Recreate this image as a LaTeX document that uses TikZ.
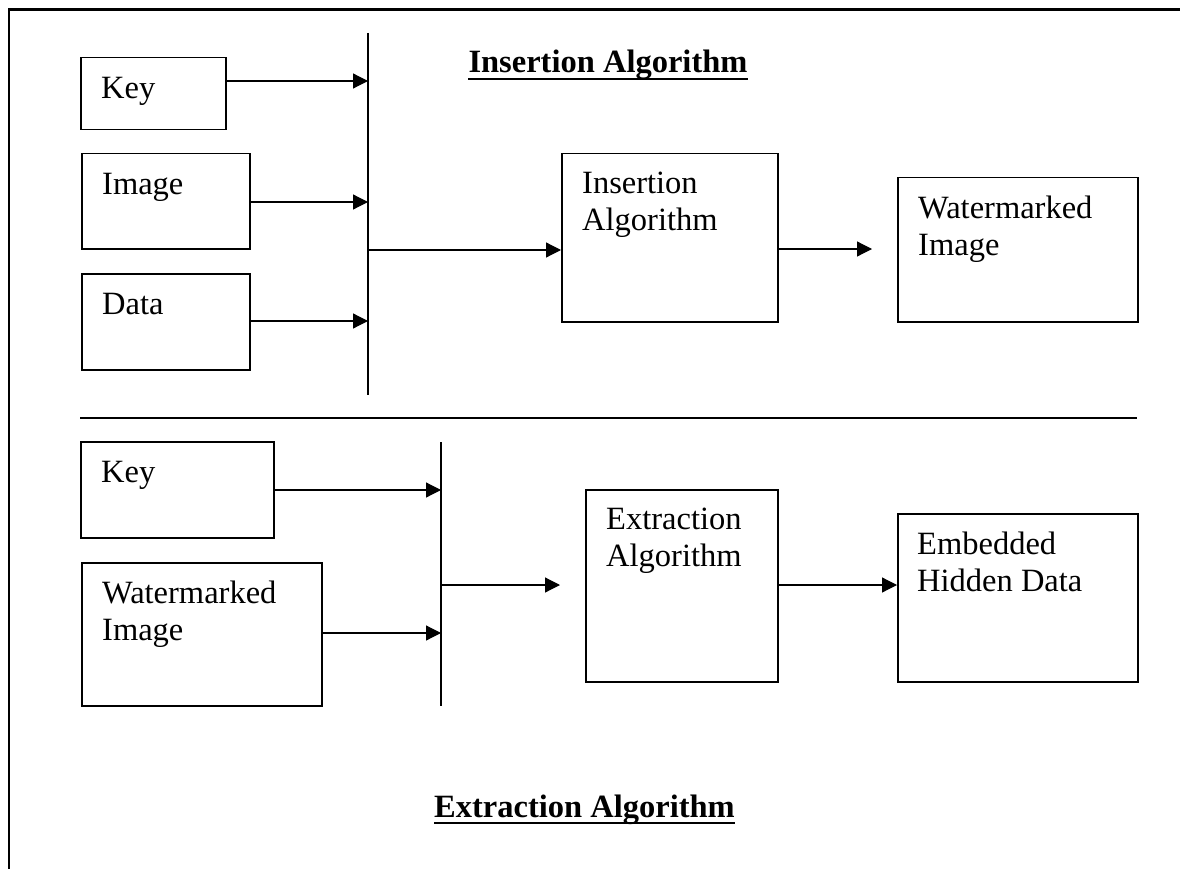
\documentclass[tikz,border=0pt]{standalone}
\usepackage{fontspec}
\setmainfont{Liberation Serif}
\usetikzlibrary{arrows.meta}
\begin{document}
\begin{tikzpicture}[x=1pt,y=-1pt,
  box/.style={draw, line width=1.5pt, rectangle, inner sep=0pt, anchor=north west},
  lbl/.style={anchor=north west, inner sep=0pt, align=left, font=\fontsize{32.5}{37}\selectfont},
  ttl/.style={anchor=base, inner sep=0pt, font=\fontsize{32.5}{37}\selectfont\bfseries},
  uline/.style={line width=2.6pt},
  arr/.style={line width=1.2pt, -{Triangle[length=15pt,width=15pt]}},
  bus/.style={line width=1.5pt},
]
\useasboundingbox (0,0) rectangle (1180,869);
% frame
\draw[line width=2.2pt] (9,869) -- (9,9.5) -- (1180,9.5);

% ---------- insertion ----------
\node[box, minimum width=145, minimum height=72] (k1) at (80,57) {};
\node[box, minimum width=168, minimum height=95] (im1) at (81,153) {};
\node[box, minimum width=168, minimum height=96] (d1) at (81,273) {};
\node[box, minimum width=216, minimum height=168] (ins) at (561,153) {};
\node[box, minimum width=240, minimum height=144] (wm1) at (897,177) {};

\node[lbl] (k1t) at ([shift={(21,20)}]k1.north west) {Key};
\node[lbl] (im1t) at ([shift={(21,20)}]im1.north west) {Image};
\node[lbl] (d1t) at ([shift={(21,20)}]d1.north west) {Data};
\node[lbl] (inst) at ([shift={(21,19)}]ins.north west) {Insertion\\Algorithm};
\node[lbl] (wm1t) at ([shift={(21,19)}]wm1.north west) {Watermarked\\Image};

\node[ttl] (title1) at (608,73) {Insertion Algorithm};
\draw[uline] ([yshift=-6pt]title1.base west) -- ([yshift=-6pt]title1.base east);

\coordinate (bus1t) at (368,33);
\coordinate (bus1b) at (368,395);
\draw[bus] (bus1t) -- (bus1b);
\coordinate (a1) at (368,81);
\coordinate (a2) at (368,202);
\coordinate (a3) at (368,321);
\coordinate (o1) at (368,250);
\draw[arr] (k1.east |- a1) -- (a1);
\draw[arr] (im1.east |- a2) -- (a2);
\draw[arr] (d1.east |- a3) -- (a3);
\draw[arr] (o1) -- (ins.west |- o1);
\coordinate (t1) at (872,249);
\draw[arr] (ins.east |- t1) -- (t1);

% separator
\draw[line width=1.4pt] (80,418) -- (1137,418);

% ---------- extraction ----------
\node[box, minimum width=193, minimum height=96] (k2) at (80,441) {};
\node[box, minimum width=240, minimum height=143] (wm2) at (81,562) {};
\node[box, minimum width=192, minimum height=192] (ext) at (585,489) {};
\node[box, minimum width=240, minimum height=168] (emb) at (897,513) {};

\node[lbl] (k2t) at ([shift={(21,20)}]k2.north west) {Key};
\node[lbl] (wm2t) at ([shift={(21,19)}]wm2.north west) {Watermarked\\Image};
\node[lbl] (extt) at ([shift={(21,19)}]ext.north west) {Extraction\\Algorithm};
\node[lbl] (embt) at ([shift={(20,19)}]emb.north west) {Embedded\\Hidden Data};

\coordinate (bus2t) at (441,442);
\coordinate (bus2b) at (441,706);
\draw[bus] (bus2t) -- (bus2b);
\coordinate (c1) at (441,490);
\coordinate (c2) at (441,633);
\coordinate (o2) at (441,585);
\coordinate (t2) at (560,585);
\draw[arr] (k2.east |- c1) -- (c1);
\draw[arr] (wm2.east |- c2) -- (c2);
\draw[arr] (o2) -- (t2);
\coordinate (e1) at (777,585);
\draw[arr] (e1) -- (emb.west |- e1);

\node[ttl] (title2) at (584.5,817) {Extraction Algorithm};
\draw[uline] ([yshift=-6pt]title2.base west) -- ([yshift=-6pt]title2.base east);
\end{tikzpicture}
\end{document}
